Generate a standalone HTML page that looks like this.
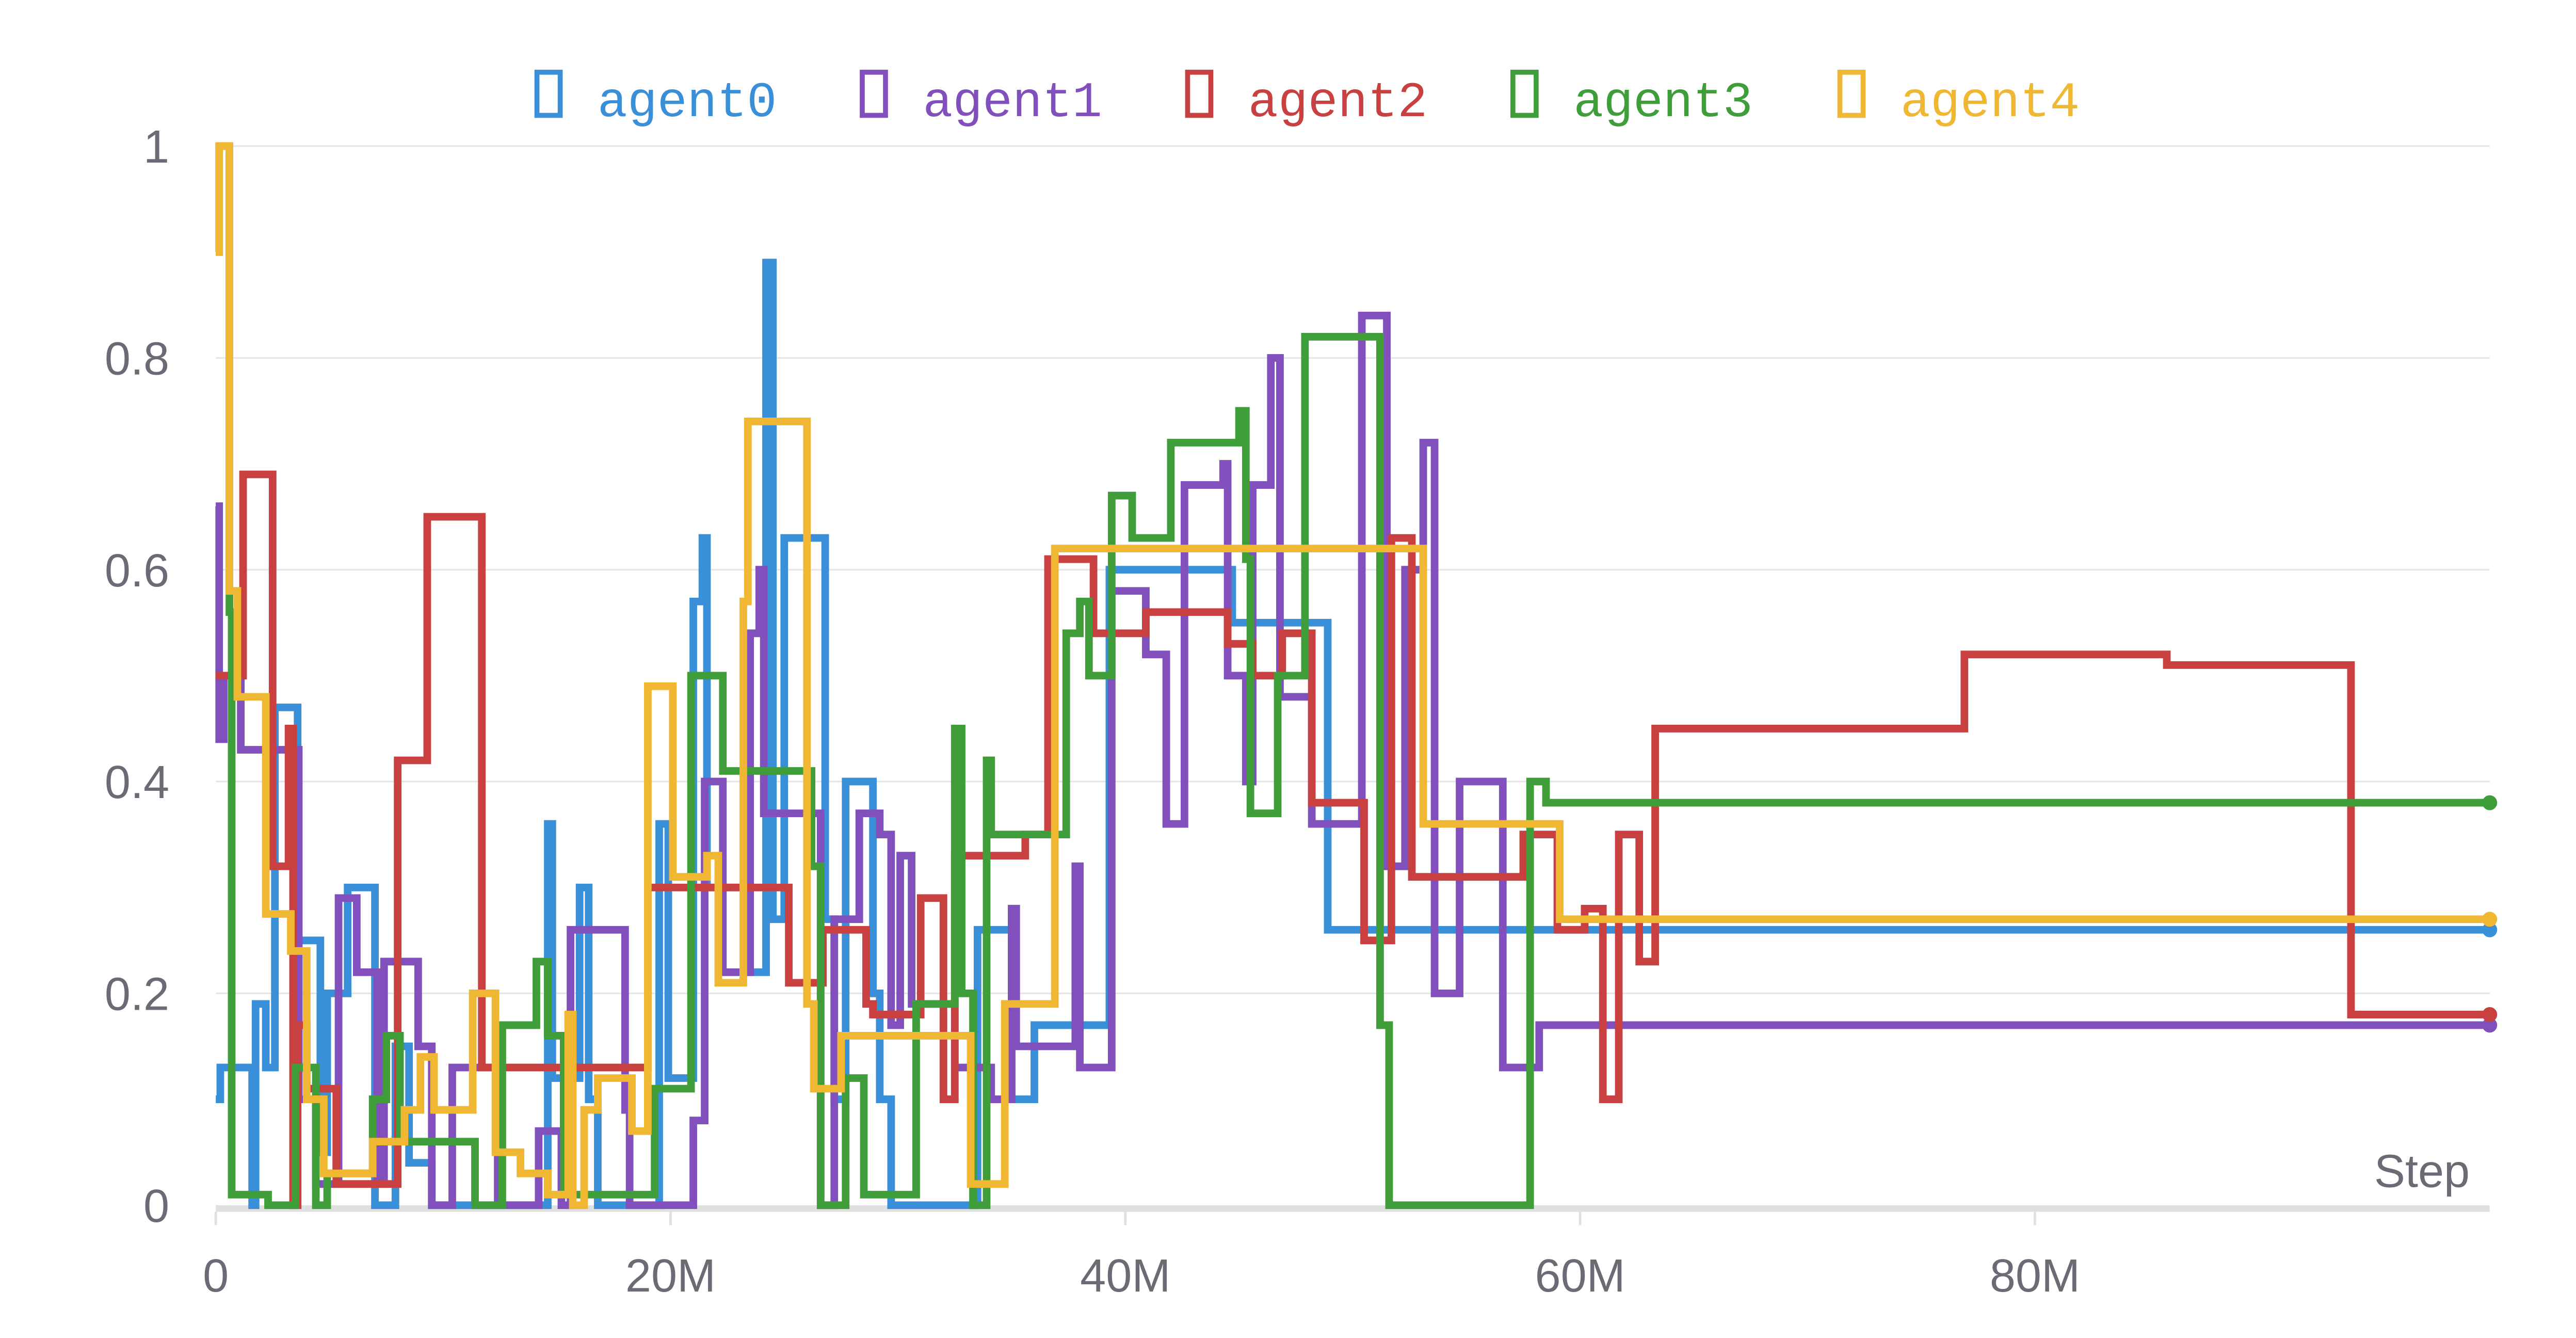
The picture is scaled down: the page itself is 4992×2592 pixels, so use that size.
<!DOCTYPE html>
<html><head><meta charset="utf-8"><style>
html,body{margin:0;padding:0;background:#fff;}
svg{display:block;}
text{font-family:"Liberation Sans",sans-serif;}
</style></head><body>
<svg id="chart" width="4992" height="2592" viewBox="0 0 1552 806" preserveAspectRatio="none" xmlns="http://www.w3.org/2000/svg">
<g id="grid"></g>
<g id="axes"></g>
<g id="series"></g>
<g id="legend"></g>
</svg>
<script>
const xTicks = [0, 20, 40, 60, 80];
const xTickLabels = ["0", "20M", "40M", "60M", "80M"];
const yTicks = [0, 0.2, 0.4, 0.6, 0.8, 1];
const yTickLabels = ["0", "0.2", "0.4", "0.6", "0.8", "1"];
const seriesNames = ["agent0", "agent1", "agent2", "agent3", "agent4"];
const seriesColors = ["#3a8fd9", "#8150bd", "#c94040", "#3f9e3a", "#f0b733"];
// step data: [step in millions, value]
const agent0 = [[0,0.1],[0.2,0.13],[1.5,0.13],[1.6,0],[1.75,0.19],[2.2,0.13],[2.6,0.47],[3.6,0.25],[4.6,0.05],[4.9,0.2],[5.8,0.3],[7,0],[7.9,0.15],[8.5,0.04],[9.5,0],[14.6,0.36],[14.8,0.12],[16,0.3],[16.4,0.1],[16.8,0],[19.5,0.36],[19.9,0.12],[21,0.57],[21.4,0.63],[21.6,0.3],[23.4,0.22],[24.2,0.89],[24.5,0.27],[25,0.63],[26.8,0.27],[27.2,0.1],[27.7,0.4],[28.9,0.2],[29.2,0.1],[29.7,0],[33.5,0.26],[35,0.1],[36,0.17],[39.3,0.6],[44.7,0.55],[48.9,0.26],[100,0.26]];
const agent1 = [[0,0.66],[0.15,0.44],[0.35,0.5],[1.1,0.43],[3.65,0.1],[4.4,0.02],[5.4,0.29],[6.2,0.22],[7.1,0.02],[7.4,0.23],[8.9,0.15],[9.5,0],[10.4,0.13],[12.4,0],[14.2,0.07],[15.2,0],[15.6,0.26],[18,0.09],[18.2,0],[21,0.08],[21.5,0.4],[22.3,0.22],[23.5,0.54],[23.9,0.6],[24.1,0.37],[26.6,0],[27.2,0.27],[28.3,0.37],[29.2,0.35],[29.7,0.17],[30.1,0.33],[30.6,0.19],[32.5,0.13],[34.1,0.1],[35,0.28],[35.2,0.15],[37.8,0.32],[38,0.13],[39.4,0.58],[40.9,0.52],[41.8,0.36],[42.6,0.68],[44.3,0.7],[44.5,0.5],[45.3,0.4],[45.6,0.68],[46.4,0.8],[46.8,0.48],[48.2,0.36],[50.4,0.84],[51.5,0.32],[52.3,0.6],[53.1,0.72],[53.6,0.2],[54.7,0.4],[56.6,0.13],[58.2,0.17],[100,0.17]];
const agent2 = [[0,0.5],[1.2,0.69],[2.5,0.32],[3.2,0.45],[3.4,0],[3.6,0.17],[4.0,0.11],[5.3,0.02],[8,0.42],[9.3,0.65],[11.7,0.13],[19,0.3],[25.2,0.21],[26.7,0.26],[28.6,0.19],[28.9,0.18],[31,0.29],[32,0.1],[32.5,0.33],[35.6,0.35],[36.6,0.61],[38.6,0.54],[40.9,0.56],[44.5,0.53],[45.6,0.5],[46.9,0.54],[48.2,0.38],[50.5,0.25],[51.7,0.63],[52.6,0.31],[57.5,0.35],[59,0.26],[60.2,0.28],[61,0.1],[61.7,0.35],[62.6,0.23],[63.3,0.45],[76.9,0.52],[85.8,0.51],[93.9,0.18],[100,0.18]];
const agent3 = [[0,0.9],[0.15,1.0],[0.6,0.56],[0.7,0.01],[2.3,0],[3.5,0.13],[4.4,0],[4.9,0.03],[6.9,0.1],[7.5,0.16],[8.1,0.06],[11.4,0],[12.6,0.17],[14.1,0.23],[14.6,0.16],[15.3,0.01],[19.3,0.11],[20.9,0.5],[22.3,0.41],[26.2,0.32],[26.6,0],[27.7,0.12],[28.5,0.01],[30.8,0.19],[32.5,0.45],[32.8,0.2],[33.3,0],[33.9,0.42],[34.1,0.35],[37.4,0.54],[38,0.57],[38.4,0.5],[39.4,0.67],[40.3,0.63],[42,0.72],[45,0.75],[45.3,0.61],[45.5,0.37],[46.7,0.5],[47.9,0.82],[51.2,0.17],[51.6,0],[57.8,0.4],[58.5,0.38],[100,0.38]];
const agent4 = [[0,0.9],[0.15,1.0],[0.6,0.58],[0.95,0.48],[2.2,0.275],[3.3,0.24],[4,0.1],[4.75,0.03],[6.9,0.06],[8.3,0.09],[9,0.14],[9.6,0.09],[11.3,0.2],[12.3,0.05],[13.4,0.03],[14.6,0.01],[15.5,0.18],[15.7,0],[16.2,0.09],[16.8,0.12],[18.3,0.07],[19,0.49],[20.1,0.31],[21.6,0.33],[22.1,0.21],[23.2,0.57],[23.4,0.74],[26,0.19],[26.3,0.11],[27.5,0.16],[33.2,0.02],[34.7,0.19],[36.9,0.62],[53.1,0.36],[59.1,0.27],[100,0.27]];
const allSeries = [agent0, agent1, agent2, agent3, agent4];

const NS = "http://www.w3.org/2000/svg";
const L = 130, R = 1500, T = 88, B = 726, XMAX = 100;
function xs(m){ return L + (R - L) * m / XMAX; }
function ys(v){ return B - (B - T) * v; }
function mk(tag, attrs, parent){ const e = document.createElementNS(NS, tag); for (const k in attrs) e.setAttribute(k, attrs[k]); parent.appendChild(e); return e; }

const grid = document.getElementById('grid');
const axes = document.getElementById('axes');
yTicks.forEach((t, i) => {
  if (t > 0) {
    const gl = mk('line', {x1: L, x2: R, y1: ys(t), y2: ys(t), stroke: '#e6e6e6', 'stroke-width': 1}, grid);
    
    
  }
  const tx = mk('text', {x: 102, y: ys(t) + 10, 'text-anchor': 'end', 'font-size': 28, fill: '#6b6b76'}, axes);
  tx.textContent = yTickLabels[i];
  
  
});
const xl = mk('line', {x1: L, x2: R, y1: B + 2, y2: B + 2, stroke: '#e0e0e0', 'stroke-width': 4}, axes);


xTicks.forEach((t, i) => {
  const tk = mk('line', {x1: xs(t), x2: xs(t), y1: B + 4, y2: B + 12, stroke: '#e0e0e0', 'stroke-width': 1.5}, axes);
  
  
  const tx = mk('text', {x: xs(t), y: 778, 'text-anchor': 'middle', 'font-size': 28, fill: '#6b6b76'}, axes);
  tx.textContent = xTickLabels[i];
  
  
});
const st = mk('text', {x: 1488, y: 715, 'text-anchor': 'end', 'font-size': 28, fill: '#6b6b76'}, axes);
st.textContent = 'Step';



const sg = document.getElementById('series');
allSeries.forEach((data, si) => {
  let d = '';
  data.forEach((p, j) => {
    if (j === 0) d += 'M' + xs(p[0]) + ',' + ys(p[1]);
    else d += 'H' + xs(p[0]) + 'V' + ys(p[1]);
  });
  const path = mk('path', {d: d, fill: 'none', stroke: seriesColors[si], 'stroke-width': 4.6, 'stroke-linejoin': 'miter'}, sg);
  
  
  const last = data[data.length - 1];
  const dot = mk('circle', {cx: xs(last[0]), cy: ys(last[1]), r: 4.5, fill: seriesColors[si]}, sg);
  
  
});

const lg = document.getElementById('legend');
const legX = [322, 518, 714, 910, 1107];
seriesNames.forEach((n, i) => {
  const g = mk('g', {}, lg);
  
  
  mk('rect', {x: legX[i] + 1.5, y: 43.5, width: 14, height: 26, fill: 'none', stroke: seriesColors[i], 'stroke-width': 3}, g);
  const t = mk('text', {x: legX[i] + 38, y: 70, 'font-size': 30, fill: seriesColors[i], style: 'font-family:"Liberation Mono",monospace'}, g);
  t.textContent = n;
});
</script>
</body></html>
